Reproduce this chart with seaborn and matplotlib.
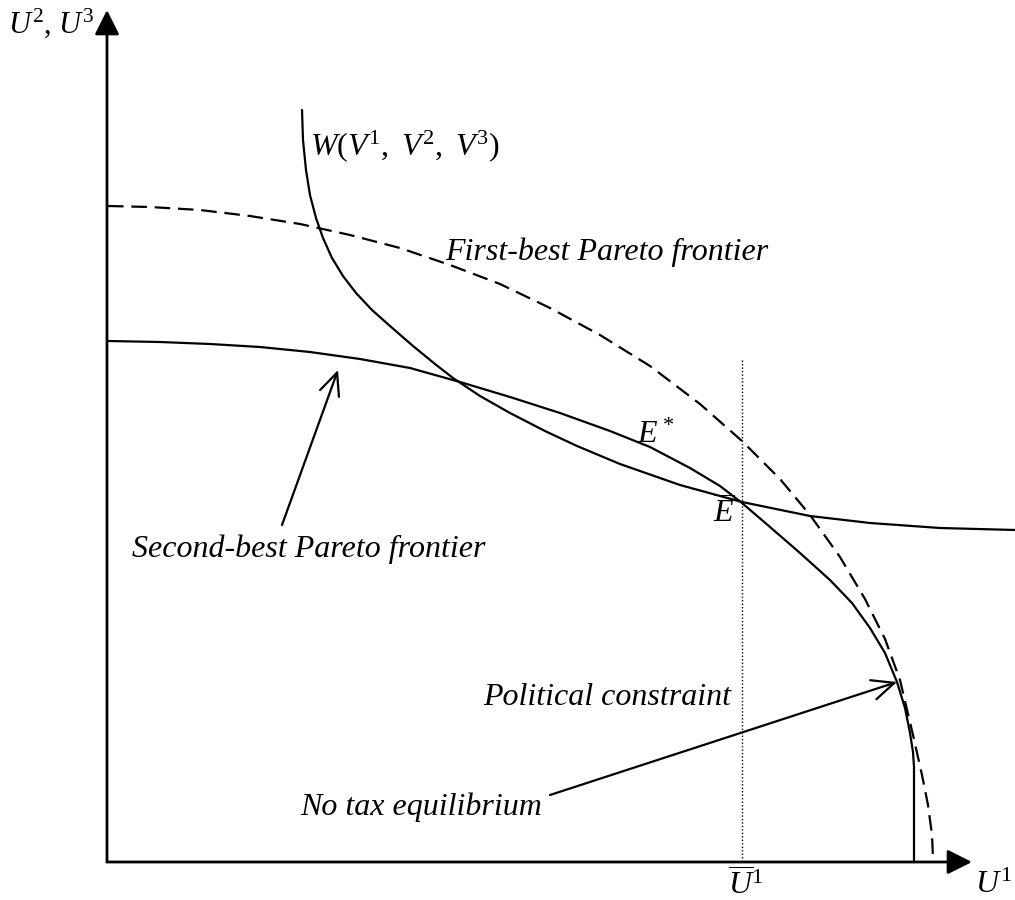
"""
Political economy diagram: first-best / second-best Pareto frontiers and W(V1, V2, V3)
"""
import matplotlib
matplotlib.use("Agg")
import matplotlib.pyplot as plt
import seaborn as sns

# Curves (pixel-like units, y grows downward)
first_best_u1 = [108, 150, 200, 250, 300, 350, 400, 450, 500, 550, 600, 650, 700,
                 742, 780, 810, 840, 865, 885, 900, 913, 922, 928, 932, 933]
first_best_u2 = [206, 207, 210, 216, 224, 235, 248, 265, 284, 308, 335, 366, 404,
                 441, 479, 515, 557, 599, 639, 680, 735, 775, 805, 835, 858]

second_best_u1 = [108, 160, 210, 260, 310, 360, 410, 460, 510, 560, 610, 650, 690, 720,
                  742, 770, 800, 830, 852, 870, 885, 897, 905, 910, 913, 914, 914]
second_best_u2 = [341, 342, 344, 347, 352, 359, 368, 382, 397, 413, 431, 447, 468, 486,
                  503, 527, 553, 580, 603, 628, 653, 682, 708, 733, 752, 767, 862]

welfare_u1 = [302, 303, 306, 310, 316, 323, 332, 343, 356, 372, 390, 413, 435, 453,
              480, 510, 545, 577, 620, 680, 742, 810, 870, 940, 1015]
welfare_u2 = [110, 140, 170, 195, 218, 238, 258, 276, 293, 310, 326, 346, 364, 378,
              396, 413, 431, 446, 464, 485, 502, 516, 523, 528, 530]

u1_bar = 742
u1_bar_top = 360
origin = (107, 862)

sns.set_style("white")
plt.rcParams["font.family"] = ["Liberation Serif", "DejaVu Serif"]
plt.rcParams["mathtext.fontset"] = "custom"
plt.rcParams["mathtext.rm"] = "Liberation Serif"
plt.rcParams["mathtext.it"] = "Liberation Serif:italic"

fig = plt.figure(figsize=(10.15, 9), dpi=100)
ax = fig.add_axes([0, 0, 1, 1])

# frontiers and welfare curve
sns.lineplot(x=first_best_u1, y=first_best_u2, sort=False, estimator=None, ax=ax,
             color="black", lw=1.6, linestyle=(0, (7, 3.5)))
sns.lineplot(x=second_best_u1, y=second_best_u2, sort=False, estimator=None, ax=ax,
             color="black", lw=1.6)
sns.lineplot(x=welfare_u1, y=welfare_u2, sort=False, estimator=None, ax=ax,
             color="black", lw=1.6)

# dotted line at U1 bar
ax.plot([u1_bar, u1_bar], [u1_bar_top, origin[1] - 4], color="black", lw=1.0,
        linestyle=(0, (1, 1.5)))

# axes with filled arrowheads
axis_arrow = dict(arrowstyle="-|>,head_length=1.0,head_width=0.5", mutation_scale=15,
                  lw=2.0, color="black", shrinkA=0, shrinkB=0)
ax.annotate("", xy=(origin[0], 10), xytext=origin, arrowprops=axis_arrow)
ax.annotate("", xy=(972, origin[1]), xytext=origin, arrowprops=axis_arrow)

# label pointers (open heads)
pointer = dict(arrowstyle="->,head_length=1.0,head_width=0.45", mutation_scale=16,
               lw=1.6, color="black", shrinkA=0, shrinkB=0)
ax.annotate("", xy=(338, 370), xytext=(282, 525), arrowprops=pointer)
ax.annotate("", xy=(897, 682), xytext=(550, 795), arrowprops=pointer)

fs = 23
txt = dict(fontsize=fs, va="baseline", ha="left", color="black")
ax.text(95, 33, r"$U^2$, $U^3$", fontsize=22, va="baseline", ha="right", color="black")
ax.text(310, 155, r"$W(V^1,\ V^2,\ V^3)$", **txt)
ax.text(445, 260, "First-best Pareto frontier", style="italic", **txt)
ax.text(132, 557, "Second-best Pareto frontier", style="italic", **txt)
ax.text(483, 705, "Political constraint", style="italic", **txt)
ax.text(300, 815, "No tax equilibrium", style="italic", **txt)
ax.text(637, 443, r"$E^*$", **txt)
ax.text(713, 523, r"$\overline{E}$", **txt)
ax.text(728, 895, r"$\overline{U}^1$", **txt)
ax.text(975, 893, r"$U^1$", **txt)

ax.set_xlim(0, 1015)
ax.set_ylim(900, 0)
ax.axis("off")

fig.savefig("out.png", dpi=100)
plt.close(fig)
